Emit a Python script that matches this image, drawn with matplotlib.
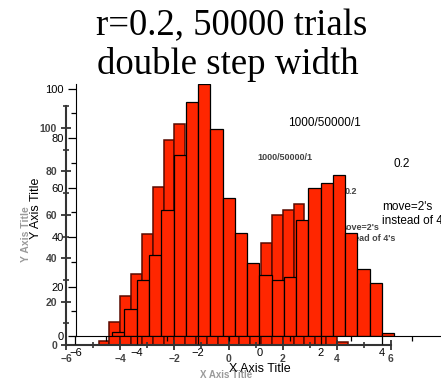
import numpy as np
import matplotlib
matplotlib.use('Agg')
import matplotlib.pyplot as plt
from matplotlib.ticker import MultipleLocator

plt.rcParams['font.family'] = ['Liberation Sans', 'DejaVu Sans']

# histogram of positions, r=0.2, 50000 trials, bins of width 0.4
bin_left = [-4.8, -4.4, -4.0, -3.6, -3.2, -2.8, -2.4, -2.0, -1.6, -1.2, -0.8, -0.4,
            0.0, 0.4, 0.8, 1.2, 1.6, 2.0, 2.4, 2.8, 3.2, 3.6, 4.0]
counts = [1.7, 10.8, 22.8, 32.7, 51.0, 73.0, 94.5, 101.8, 83.6, 55.8, 41.6, 29.5,
          24.6, 22.6, 23.8, 47.0, 60.0, 62.0, 65.0, 41.6, 27.1, 21.4, 1.2]
bin_w = 0.4

x_ticks = [-6, -4, -2, 0, 2, 4, 6]
y_ticks = [0, 20, 40, 60, 80, 100]

W, H = 441, 380
fig = plt.figure(figsize=(W / 100, H / 100), dpi=100)

def fx(px):
    return px / W

def fy(py):
    return 1 - py / H

# second (pasted, smaller) copy of the graph, sits behind
ax_b = fig.add_axes([fx(66), fy(345), 325 / W, 238.7 / H], zorder=1)
ax_b.patch.set_visible(False)
ax_b.bar(bin_left, counts, width=bin_w, align='edge', color='#ff2600',
         edgecolor='#5a0a00', linewidth=1.1, clip_on=False)
ax_b.set_xlim(-6, 6)
ax_b.set_ylim(0, 110)
for s in ['top', 'right']:
    ax_b.spines[s].set_visible(False)
for s in ['left', 'bottom']:
    ax_b.spines[s].set_color('#333333')
    ax_b.spines[s].set_linewidth(1.5)
ax_b.set_xticks(x_ticks)
ax_b.set_yticks(y_ticks)
ax_b.xaxis.set_minor_locator(MultipleLocator(1))
ax_b.yaxis.set_minor_locator(MultipleLocator(10))
ax_b.tick_params(which='major', direction='inout', length=7, width=1.3, color='#333333',
                 labelsize=7.5, labelcolor='#444444', pad=3)
ax_b.tick_params(which='minor', direction='inout', length=4, width=1.2, color='#333333')
for lab in ax_b.get_xticklabels() + ax_b.get_yticklabels():
    lab.set_fontweight('bold')

tb = dict(transform=fig.transFigure, color='#444444', fontweight='bold')
ax_b.text(fx(285), fy(158), '1000/50000/1', fontsize=6.5, ha='center', va='center', **tb)
ax_b.text(fx(345), fy(192), '0.2', fontsize=6.5, ha='left', va='center', **tb)
ax_b.text(fx(338), fy(223), "move=2's\ninstead of 4's", fontsize=6.5, ha='left', va='top',
          linespacing=1.3, **tb)
ax_b.text(fx(26), fy(234), 'Y Axis Title', fontsize=7.5, rotation=90, ha='center',
          va='center', color='#9a9a9a', fontweight='bold', transform=fig.transFigure)
ax_b.text(fx(226), fy(375), 'X Axis Title', fontsize=7, ha='center', va='center',
          color='#9a9a9a', fontweight='bold', transform=fig.transFigure)

# main graph on top
ax_a = fig.add_axes([fx(75.5), fy(336), 367.5 / W, 252.4 / H], zorder=2)
ax_a.patch.set_visible(False)
ax_a.bar(bin_left, counts, width=bin_w, align='edge', color='#ff2600',
         edgecolor='black', linewidth=0.9)
ax_a.set_xlim(-6, 6)
ax_a.set_ylim(0, 102)
for s in ['top', 'right']:
    ax_a.spines[s].set_visible(False)
ax_a.set_xticks(x_ticks[:-1])
ax_a.set_yticks(y_ticks)
ax_a.xaxis.set_minor_locator(MultipleLocator(1))
ax_a.yaxis.set_minor_locator(MultipleLocator(10))
ax_a.tick_params(which='major', direction='out', length=6, width=0.9, labelsize=8, pad=2.5)
ax_a.tick_params(which='minor', direction='out', length=3.5, width=0.9)

ta = dict(transform=fig.transFigure, color='black')
ax_a.text(fx(36), fy(208), 'Y Axis Title', fontsize=9, rotation=90, ha='center',
          va='center', **ta)
ax_a.text(fx(324), fy(123), '1000/50000/1', fontsize=8.5, ha='center', va='center', **ta)
ax_a.text(fx(402), fy(164), '0.2', fontsize=8.5, ha='center', va='center', **ta)
ax_a.text(fx(382), fy(201), "move=2's\ninstead of 4's", fontsize=8.5, ha='left', va='top',
          linespacing=1.2, **ta)
ax_a.text(fx(260), fy(369), 'X Axis Title', fontsize=9, ha='center', va='center', **ta)

fig.text(fx(232), fy(26), 'r=0.2, 50000 trials', fontsize=26.5, ha='center', va='center',
         family='Liberation Serif')
fig.text(fx(228), fy(64), 'double step width', fontsize=26.5, ha='center', va='center',
         family='Liberation Serif')

fig.savefig('out.png', dpi=100)
